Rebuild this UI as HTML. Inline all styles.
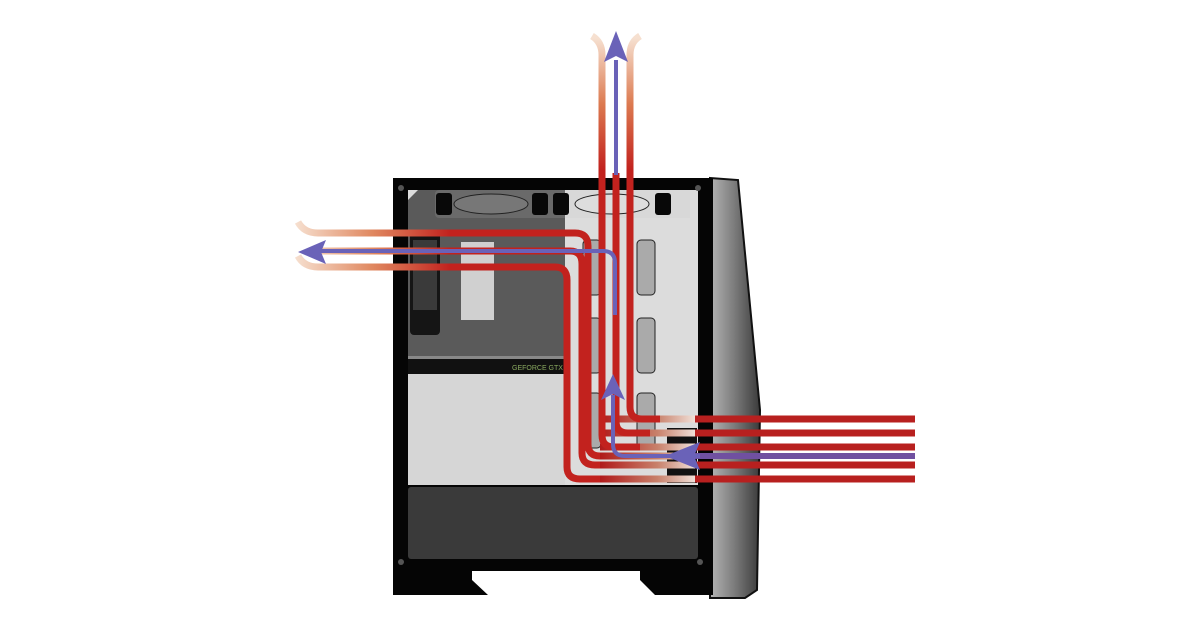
<!DOCTYPE html>
<html><head><meta charset="utf-8"><style>html,body{margin:0;padding:0;background:#fff}svg{display:block}</style></head>
<body>
<svg width="1200" height="630" viewBox="0 0 1200 630" xmlns="http://www.w3.org/2000/svg">
<defs>
<linearGradient id="gl" gradientUnits="userSpaceOnUse" x1="295" y1="0" x2="450" y2="0">
<stop offset="0" stop-color="#f6e0d0"/><stop offset="0.5" stop-color="#e08860"/><stop offset="1" stop-color="#c2221e"/></linearGradient>
<linearGradient id="gt" gradientUnits="userSpaceOnUse" x1="0" y1="38" x2="0" y2="170">
<stop offset="0" stop-color="#f6e0d0"/><stop offset="0.5" stop-color="#dc7a50"/><stop offset="1" stop-color="#c2221e"/></linearGradient>
<linearGradient id="gr" gradientUnits="userSpaceOnUse" x1="600" y1="0" x2="695" y2="0">
<stop offset="0" stop-color="#b01a1a"/><stop offset="0.6" stop-color="#c8806a"/><stop offset="1" stop-color="#f0e0d8"/></linearGradient>
<linearGradient id="fp" x1="0" y1="0" x2="1" y2="0">
<stop offset="0" stop-color="#b5b5b5"/><stop offset="0.5" stop-color="#7a7a7a"/><stop offset="1" stop-color="#3a3a3a"/></linearGradient>
</defs>

<polygon points="710,178 738,180 760,410 757,590 745,598 710,598" fill="url(#fp)" stroke="#111" stroke-width="2"/>
<rect x="393" y="178" width="320" height="393" fill="#050505"/>
<polygon points="393,570 472,570 472,580 488,595 393,595" fill="#050505"/>
<polygon points="640,570 713,570 713,595 655,595 640,580" fill="#050505"/>
<rect x="408" y="190" width="290" height="295" fill="#dcdcdc"/>
<path d="M418,190 H565 V360 H408 V200 Z" fill="#5a5a5a"/>
<rect x="408" y="372" width="157" height="113" fill="#d6d6d6"/>
<rect x="435" y="190" width="255" height="28" rx="4" fill="#6a6a6a"/>
<rect x="565" y="190" width="125" height="28" fill="#d8d8d8"/>
<rect x="436" y="193" width="16" height="22" rx="3" fill="#080808"/>
<rect x="532" y="193" width="16" height="22" rx="3" fill="#080808"/>
<rect x="553" y="193" width="16" height="22" rx="3" fill="#080808"/>
<rect x="655" y="193" width="16" height="22" rx="3" fill="#080808"/>
<ellipse cx="491" cy="204" rx="37" ry="10" fill="#777" stroke="#222"/>
<ellipse cx="612" cy="204" rx="37" ry="10" fill="#ddd" stroke="#222"/>
<rect x="410" y="230" width="30" height="105" rx="4" fill="#151515"/>
<rect x="413" y="240" width="24" height="70" fill="#3a3a3a"/>
<rect x="461" y="242" width="33" height="78" fill="#d0d0d0"/>
<rect x="583" y="240" width="18" height="55" rx="4" fill="#aaa" stroke="#222"/>
<rect x="637" y="240" width="18" height="55" rx="4" fill="#aaa" stroke="#222"/>
<rect x="583" y="318" width="18" height="55" rx="4" fill="#aaa" stroke="#222"/>
<rect x="637" y="318" width="18" height="55" rx="4" fill="#aaa" stroke="#222"/>
<rect x="583" y="393" width="18" height="55" rx="4" fill="#aaa" stroke="#222"/>
<rect x="637" y="393" width="18" height="55" rx="4" fill="#aaa" stroke="#222"/>
<rect x="667" y="428" width="30" height="55" fill="#111"/>
<rect x="408" y="358" width="157" height="16" fill="#111"/>
<rect x="408" y="356" width="157" height="3" fill="#888"/>
<text x="512" y="370" font-family="Liberation Sans, sans-serif" font-size="7" fill="#8aaa60">GEFORCE GTX</text>
<rect x="408" y="487" width="290" height="72" rx="3" fill="#3a3a3a"/>
<circle cx="401" cy="188" r="3" fill="#555"/><circle cx="698" cy="188" r="3" fill="#555"/>
<circle cx="401" cy="562" r="3" fill="#555"/><circle cx="700" cy="562" r="3" fill="#555"/>

<g fill="none" stroke-width="7" stroke-linejoin="round">
<path d="M298,222 Q304,233 318,233 H575 Q588,233 588,246 V444 Q588,456 600,456 H695" stroke="url(#gl)"/>
<path d="M298,256 Q304,267 318,267 H555 Q567,267 567,280 V467 Q567,479 580,479 H695" stroke="url(#gl)"/>
<path d="M318,251 H570 Q582,251 582,264 V453 Q582,465 595,465 H695" stroke="url(#gl)"/>
</g>
<g stroke-width="7">
<line x1="600" y1="419" x2="695" y2="419" stroke="url(#gr)"/>
<line x1="600" y1="433" x2="695" y2="433" stroke="url(#gr)"/>
<line x1="600" y1="447" x2="695" y2="447" stroke="url(#gr)"/>
<line x1="600" y1="456" x2="695" y2="456" stroke="url(#gr)"/>
<line x1="600" y1="465" x2="695" y2="465" stroke="url(#gr)"/>
<line x1="600" y1="479" x2="695" y2="479" stroke="url(#gr)"/>
</g>
<g fill="none" stroke-width="7">
<path d="M592,36 Q602,42 602,55 V435 Q602,447 614,447 H640" stroke="url(#gt)"/>
<path d="M640,36 Q630,42 630,55 V407 Q630,419 642,419 H660" stroke="url(#gt)"/>
<path d="M616,173 V421 Q616,433 628,433 H650" stroke="#c2221e"/>
</g>
<g stroke="#b8201f" stroke-width="7">
<line x1="695" y1="419" x2="915" y2="419"/>
<line x1="695" y1="433" x2="915" y2="433"/>
<line x1="695" y1="447" x2="915" y2="447"/>
<line x1="695" y1="465" x2="915" y2="465"/>
<line x1="695" y1="479" x2="915" y2="479"/>
</g>
<line x1="695" y1="456" x2="915" y2="456" stroke="#7050a0" stroke-width="6"/>
<g fill="none" stroke="#6a62b8" stroke-width="4">
<path d="M320,251 H603 Q615,251 615,263 V315"/>
<line x1="616" y1="60" x2="616" y2="175"/>
<path d="M700,456 H625 Q613,456 613,444 V395"/>
</g>
<g fill="#6a62b8">
<polygon points="298,252 326,240 321,252 326,264"/>
<polygon points="616,31 604,62 616,56 628,62"/>
<polygon points="613,374 601,400 613,394 625,400"/>
<polygon points="665,456 700,442 694,456 700,470"/>
</g>
</svg>
</body></html>
